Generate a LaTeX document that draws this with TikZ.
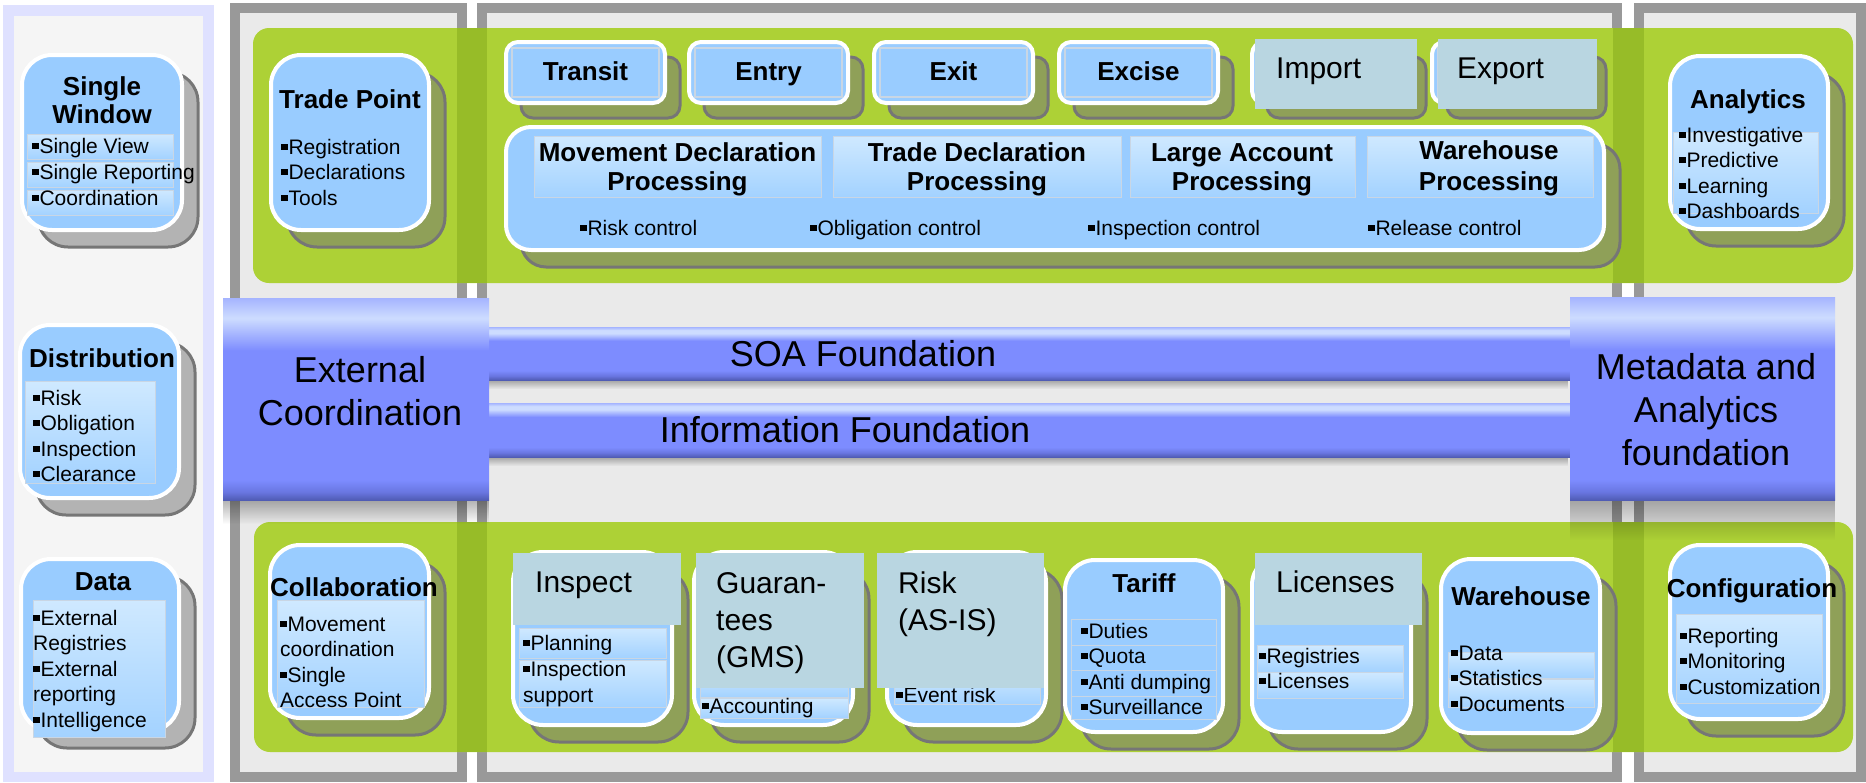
\documentclass[tikz,border=0pt]{standalone}
\usepackage{fontspec}
\setmainfont{Liberation Sans}
\usetikzlibrary{fadings}
\definecolor{lav}{HTML}{DFE1FF}
\definecolor{panelbg}{HTML}{F5F5F5}
\definecolor{frame}{HTML}{999999}
\definecolor{innerbg}{HTML}{EAEAEA}
\definecolor{grn}{HTML}{ADD136}
\definecolor{grnd}{HTML}{97BC28}
\definecolor{card}{HTML}{99CCFF}
\definecolor{shdG}{HTML}{8FA058}
\definecolor{shdL}{HTML}{B3B3B3}
\definecolor{shdline}{HTML}{767676}
\definecolor{tealc}{HTML}{B9D6E1}
\definecolor{itop}{HTML}{CFE9FF}
\definecolor{ibot}{HTML}{A3D2FF}
\definecolor{iline}{HTML}{C9D6E4}
\definecolor{fD}{RGB}{80,92,180}
\definecolor{fM2}{RGB}{105,118,225}
\definecolor{fM}{RGB}{125,140,255}
\definecolor{fL}{RGB}{205,220,255}
\definecolor{fL2}{RGB}{165,180,255}
\pgfdeclareverticalshading{fbox}{100bp}{color(0bp)=(fD); color(25bp)=(fD); color(27bp)=(fM2); color(30bp)=(fM); color(62bp)=(fM); color(70bp)=(fL); color(75bp)=(fL2); color(100bp)=(fL2)}
\pgfdeclareverticalshading{fbar}{100bp}{color(0bp)=(fD); color(25bp)=(fD); color(29bp)=(fM2); color(34bp)=(fM); color(62bp)=(fM); color(69bp)=(fL); color(72bp)=(fL); color(75bp)=(fL2); color(100bp)=(fL2)}
\tikzfading[name=fadedown, top color=transparent!0, bottom color=transparent!100]
\newcommand\bu{\raisebox{0.2em}{\rule{0.3em}{0.3em}}\kern0.05em}
\newcommand\card[6]{%
  \draw[fill=#1, draw=shdline, line width=3pt, rounded corners=#6pt] ({#2+16},{#3+17}) rectangle ({#4+16},{#5+17});
  \draw[fill=card, draw=white, line width=4pt, rounded corners=#6pt] (#2,#3) rectangle (#4,#5);}
\newcommand\tabshape[1]{%
  \draw[fill=shdG, draw=shdline, line width=3pt, rounded corners=12pt] ({#1+15},57) rectangle ({#1+174},118);
  \draw[fill=card, draw=white, line width=4pt, rounded corners=12pt] (#1,42) rectangle ({#1+159},103);
  \draw[iline, line width=1.5pt] ({#1+6},48) rectangle ({#1+153},97);}
\newcommand\ibox[4]{\shadedraw[top color=itop, bottom color=ibot, draw=iline, line width=1pt] (#1,#2) rectangle (#3,#4);}
\newcommand\txtlines[6]{\foreach \itm [count=\nn] in {#6}{\node[#2] (#1\nn) at ({#3},{#4+#5*(\nn-1)}) {\itm};}}
\begin{document}
\begin{tikzpicture}[x=1pt,y=-1pt,
  ttl/.style={anchor=base, inner sep=0pt, font=\bfseries\fontsize{26}{30}\selectfont},
  itm/.style={anchor=base west, inner sep=0pt, font=\fontsize{21}{25}\selectfont},
  big/.style={anchor=base west, inner sep=0pt, font=\fontsize{30}{36}\selectfont},
  fnd/.style={anchor=base, inner sep=0pt, font=\fontsize{36}{43}\selectfont}]
\useasboundingbox (0,0) rectangle (1866,782);
% panels
\fill[lav] (3,5) rectangle (214,782);
\fill[panelbg] (14,16) rectangle (203,772);
\fill[frame] (230,3) rectangle (467,782); \fill[innerbg] (240,13) rectangle (457,772);
\fill[frame] (477,3) rectangle (1622,782); \fill[innerbg] (487,13) rectangle (1612,772);
\fill[frame] (1634,3) rectangle (1866,782); \fill[innerbg] (1644,13) rectangle (1856,772);
% green bands
\fill[grn, rounded corners=16pt] (253,28) rectangle (1853,283);
\fill[grn, rounded corners=16pt] (254,522) rectangle (1853,752);
\fill[grnd] (457,28) rectangle (487,283);
\fill[grnd] (1613,28) rectangle (1644,283);
\fill[grnd] (457,522) rectangle (487,752);
\fill[grnd] (1613,522) rectangle (1644,752);
% foundations
\fill[black, fill opacity=0.3, path fading=fadedown] (489,380) rectangle (1570,389);
\fill[black, fill opacity=0.3, path fading=fadedown] (489,457) rectangle (1570,466);
\shade[shading=fbar] (489,327) rectangle (1570,380);
\shade[shading=fbar] (489,403) rectangle (1570,457);
\fill[black, fill opacity=0.3, path fading=fadedown] (223,500) rectangle (489,524);
\fill[black, fill opacity=0.3, path fading=fadedown] (1570,500) rectangle (1835,540);
\shade[shading=fbox] (223,298) rectangle (489,500);
\shade[shading=fbox] (1570,297) rectangle (1835,500);
\txtlines{ext}{fnd}{360}{382}{43}{External,Coordination}
\node[fnd] (soa) at (863,366) {SOA Foundation};
\node[fnd] (inf) at (845,442) {Information Foundation};
\txtlines{meta}{fnd}{1706}{379}{43}{Metadata and,Analytics,foundation}
% left panel
\card{shdL}{22}{55}{182}{230}{30}
\ibox{27}{134}{173}{159}\ibox{27}{162}{173}{187}\ibox{27}{190}{173}{215}
\txtlines{swt}{ttl}{102}{95}{28}{Single,Window}
\txtlines{swi}{itm}{32}{153}{26}{\bu Single View,\bu Single Reporting,\bu Coordination}
\card{shdL}{20}{325}{179}{498}{30}
\ibox{25}{381}{155}{483}
\txtlines{dit}{ttl}{102}{367}{0}{Distribution}
\txtlines{dii}{itm}{33}{405}{25.5}{\bu Risk,\bu Obligation,\bu Inspection,\bu Clearance}
\card{shdL}{21}{559}{179}{731}{30}
\ibox{33}{600}{165}{737}
\txtlines{dat}{ttl}{103}{590}{0}{Data}
\txtlines{dai}{itm}{33}{625}{25.5}{\bu External,Registries,\bu External,reporting,\bu Intelligence}
% panel 2
\card{shdG}{271}{55}{429}{230}{30}
\txtlines{tpt}{ttl}{350}{108}{0}{Trade Point}
\txtlines{tpi}{itm}{281}{154}{25.5}{\bu Registration,\bu Declarations,\bu Tools}
\card{shdG}{270}{545}{429}{718}{30}
\ibox{277}{600}{424}{707}
\txtlines{cot}{ttl}{354}{596}{0}{Collaboration}
\txtlines{coi}{itm}{280}{631}{25.5}{\bu Movement,coordination,\bu Single,Access Point}
% tabs
\tabshape{506}\node[ttl] (tr) at (585.5,80) {Transit};
\tabshape{689}\node[ttl] (en) at (768.5,80) {Entry};
\tabshape{874}\node[ttl] (ex) at (953.5,80) {Exit};
\tabshape{1059}\node[ttl] (exc) at (1138.5,80) {Excise};
\tabshape{1252}\fill[tealc] (1255,39) rectangle (1417,109);
\node[big] (imp) at (1276,78) {Import};
\tabshape{1432}\fill[tealc] (1438,39) rectangle (1597,109);
\node[big] (expo) at (1457,78) {Export};
% processing
\draw[fill=shdG, draw=shdline, line width=3pt, rounded corners=25pt] (521,144) rectangle (1620,267);
\draw[fill=card, draw=white, line width=4pt, rounded corners=25pt] (506,127) rectangle (1604,250);
\ibox{534}{136}{821}{197}\ibox{833}{136}{1121}{197}\ibox{1130}{136}{1355}{197}\ibox{1367}{136}{1593}{197}
\txtlines{pa}{ttl}{677.5}{161}{29}{Movement Declaration,Processing}
\txtlines{pb}{ttl}{977}{161}{29}{Trade Declaration,Processing}
\txtlines{pc}{ttl}{1242}{161}{29}{Large Account,Processing}
\txtlines{pd}{ttl}{1489}{159}{31}{Warehouse,Processing}
\node[itm] (rc) at (580,235) {\bu Risk control};
\node[itm] (oc) at (810,235) {\bu Obligation control};
\node[itm] (ic) at (1088,235) {\bu Inspection control};
\node[itm] (rlc) at (1368,235) {\bu Release control};
% analytics
\card{shdG}{1670}{56}{1828}{229}{30}
\ibox{1673}{132}{1818}{213}
\txtlines{ant}{ttl}{1748}{108}{0}{Analytics}
\txtlines{ani}{itm}{1679}{142}{25.5}{\bu Investigative,\bu Predictive,\bu Learning,\bu Dashboards}
% bottom band
\card{shdG}{513}{552}{672}{725}{30}
\ibox{519}{628}{666}{658}\ibox{519}{660}{666}{707}
\txtlines{ini}{itm}{523}{650}{26}{\bu Planning,\bu Inspection,support}
\fill[tealc] (513,553) rectangle (681,625);
\node[big] (insp) at (535,592) {Inspect};
\card{shdG}{694}{552}{853}{725}{30}
\ibox{700}{672}{848}{697}\ibox{700}{698}{848}{718}
\node[itm] (acc) at (702,713) {\bu Accounting};
\fill[tealc] (696,553) rectangle (864,688);
\txtlines{gut}{big}{716}{593}{37}{Guaran-,tees,(GMS)}
\card{shdG}{887}{552}{1046}{725}{30}
\ibox{894}{673}{1040}{704}
\node[itm] (evr) at (896,702) {\bu Event risk};
\fill[tealc] (877,553) rectangle (1044,688);
\txtlines{rit}{big}{898}{593}{37}{Risk,(AS-IS)}
\card{shdG}{1065}{560}{1223}{732}{30}
\draw[fill=card, draw=iline, line width=1pt] (1071,619) rectangle (1216,645);
\draw[fill=card, draw=iline, line width=1pt] (1071,645) rectangle (1216,670);
\draw[fill=card, draw=iline, line width=1pt] (1071,670) rectangle (1216,696);
\draw[fill=card, draw=iline, line width=1pt] (1071,696) rectangle (1216,719);
\txtlines{tat}{ttl}{1144}{592}{0}{Tariff}
\txtlines{tai}{itm}{1081}{638}{25.5}{\bu Duties,\bu Quota,\bu Anti dumping,\bu Surveillance}
\card{shdG}{1252}{555}{1411}{732}{30}
\ibox{1257}{645}{1403}{672}\ibox{1257}{672}{1403}{698}
\txtlines{lii}{itm}{1259}{663}{25.5}{\bu Registries,\bu Licenses}
\fill[tealc] (1255,553) rectangle (1422,625);
\node[big] (lic) at (1276,592) {Licenses};
\card{shdG}{1441}{559}{1600}{733}{30}
\ibox{1448}{652}{1594}{678}\ibox{1448}{679}{1594}{707}
\txtlines{wat}{ttl}{1521}{605}{0}{Warehouse}
\txtlines{wai}{itm}{1451}{660}{25.5}{\bu Data,\bu Statistics,\bu Documents}
\card{shdG}{1670}{545}{1828}{719}{30}
\ibox{1676}{614}{1822}{703}
\txtlines{cft}{ttl}{1752}{597}{0}{Configuration}
\txtlines{cfi}{itm}{1680}{643}{25.5}{\bu Reporting,\bu Monitoring,\bu Customization}
\end{tikzpicture}
\end{document}
